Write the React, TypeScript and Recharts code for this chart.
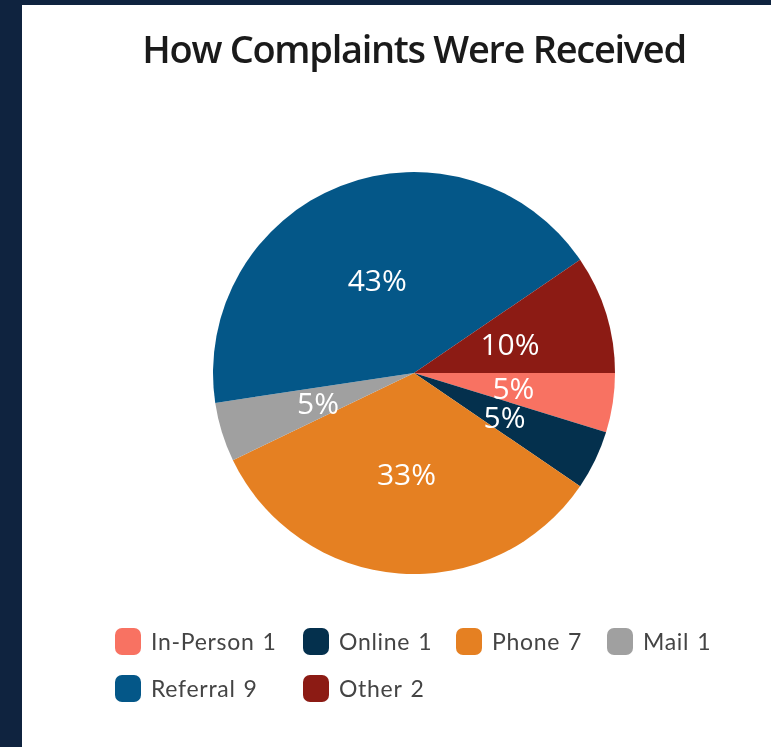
import { PieChart, Pie, Cell, Legend } from 'recharts';

const categories = ['In-Person', 'Online', 'Phone', 'Mail', 'Referral', 'Other'];
const counts = [1, 1, 7, 1, 9, 2];
const COLORS = ['#f87262', '#04304d', '#e58022', '#a0a0a0', '#045788', '#8c1b14'];

const data = categories.map((name, i) => ({ name, value: counts[i] }));

const RAD = Math.PI / 180;

function renderLabel(props: any) {
  const { cx, cy, midAngle, outerRadius, percent } = props;
  const r = outerRadius * 0.5;
  const x = cx + r * Math.cos(-midAngle * RAD);
  const y = cy + r * Math.sin(-midAngle * RAD);
  return (
    <text x={x} y={y} fill="#fff" textAnchor="middle" dominantBaseline="central"
      style={{ fontFamily: '"Open Sans", sans-serif', fontSize: 30 }}>
      {`${Math.round(percent * 100)}%`}
    </text>
  );
}

// legend laid out in fixed columns like the original
const colWidths = [188, 153, 151, 152];

function renderLegend() {
  return (
    <div style={{ display: 'grid', gridTemplateColumns: colWidths.map((w) => `${w}px`).join(' '), rowGap: 21 }}>
      {data.map((d, i) => (
        <div key={d.name} style={{ display: 'flex', alignItems: 'center', height: 26 }}>
          <span style={{ width: 26, height: 27, borderRadius: 7, background: COLORS[i], marginRight: 10, display: 'inline-block', flex: 'none' }} />
          <span style={{ fontFamily: 'Lato, sans-serif', fontSize: 23, color: '#444', letterSpacing: 0.7, whiteSpace: 'pre' }}>
            {d.name}
            <span style={{ marginLeft: 8 }}>{d.value}</span>
          </span>
        </div>
      ))}
    </div>
  );
}

export default function App() {
  return (
    <div style={{ position: 'fixed', left: 0, top: 0, width: 771, height: 747, background: '#0f233f' }}>
      <div style={{ position: 'absolute', left: 22, top: 5, width: 749, height: 742, background: '#fff' }}>
        <div style={{
          position: 'absolute', left: 0, top: 17, width: 784, textAlign: 'center',
          fontFamily: '"Open Sans", sans-serif', fontSize: 38, fontWeight: 600, color: '#1a1a1a', letterSpacing: -1.3,
        }}>
          How Complaints Were Received
        </div>
        <PieChart width={749} height={742} margin={{ top: 0, right: 0, bottom: 0, left: 0 }}>
          <Pie
            data={data}
            dataKey="value"
            nameKey="name"
            cx={392}
            cy={368}
            outerRadius={201}
            startAngle={0}
            endAngle={-360}
            stroke="none"
            label={renderLabel}
            labelLine={false}
            isAnimationActive={false}
          >
            {data.map((_d, i) => <Cell key={`cell-${i}`} fill={COLORS[i]} />)}
          </Pie>
          <Legend content={renderLegend} wrapperStyle={{ left: 93, top: 623, width: 660 }} />
        </PieChart>
      </div>
    </div>
  );
}
